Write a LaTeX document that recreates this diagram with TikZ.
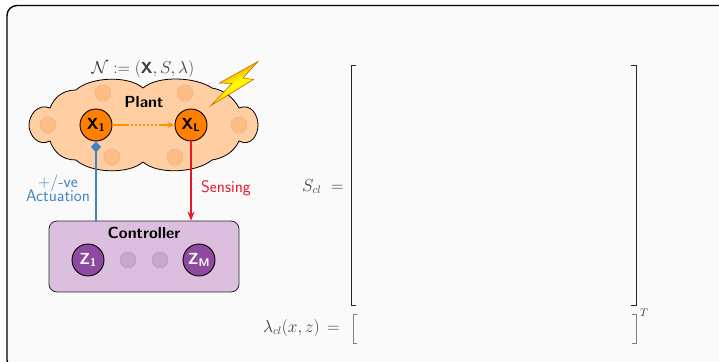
\documentclass[tikz,border=0pt]{standalone}
\usetikzlibrary{arrows.meta}
\definecolor{panelbg}{HTML}{FAFAFA}
\definecolor{cloudfill}{HTML}{FFCFA3}
\definecolor{cloudspot}{HTML}{FDBD85}
\definecolor{spotline}{HTML}{EDB488}
\definecolor{nodeorange}{HTML}{FF7F00}
\definecolor{ctrlfill}{HTML}{DCBFDF}
\definecolor{ctrlspot}{HTML}{C9A7CE}
\definecolor{ctrlspotline}{HTML}{BC9CC4}
\definecolor{zpurple}{HTML}{8E4A9E}
\definecolor{actblue}{HTML}{3E86C2}
\definecolor{sensered}{HTML}{E41A2C}
\definecolor{mathgray}{HTML}{3C3C3C}
\tikzset{
  bignode/.style={circle,draw=black,line width=0.9pt,minimum size=32pt,inner sep=0pt,font=\fontsize{16}{16}\sffamily\bfseries},
  xnode/.style={bignode,fill=nodeorange,text=black},
  znode/.style={bignode,fill=zpurple,text=white},
  cspot/.style={circle,fill=cloudspot,draw=spotline,line width=0.6pt,minimum size=16pt,inner sep=0pt},
  pspot/.style={circle,fill=ctrlspot,draw=ctrlspotline,line width=0.6pt,minimum size=16pt,inner sep=0pt},
  bracketline/.style={line width=1pt,draw=black!85},
  thinbracket/.style={line width=0.8pt,draw=black!50},
  mathlabel/.style={text=mathgray,font=\fontsize{16}{18}\selectfont,inner sep=0pt},
  titlelabel/.style={font=\fontsize{16}{16}\sffamily\bfseries,inner sep=0pt},
  arrowlabel/.style={font=\fontsize{16.8}{17}\sffamily,inner sep=0pt}
}
\begin{document}
\begin{tikzpicture}[x=1pt,y=-1pt]
\useasboundingbox (0,0) rectangle (719,361);
\begin{scope}
\clip (0,0) rectangle (719,361);
\fill[white] (0,0) rectangle (719,361);
\draw[fill=panelbg,line width=1.4pt,rounded corners=10pt] (7,5.5) rectangle (729,370);
\end{scope}
% cloud
\draw[fill=cloudfill,line width=0.8pt]
  (50,108) .. controls (54,98) and (62,90) .. (76,90)
  .. controls (90,77) and (128,75) .. (143,88)
  .. controls (158,75) and (196,77) .. (212,88)
  .. controls (224,90) and (234,98) .. (239,108)
  .. controls (251,103) and (258,115) .. (258,125)
  .. controls (258,135) and (251,147) .. (239,141)
  .. controls (234,152) and (224,158) .. (212,160)
  .. controls (196,173) and (158,175) .. (143,162)
  .. controls (128,175) and (90,173) .. (76,160)
  .. controls (62,160) and (54,152) .. (50,141)
  .. controls (38,147) and (29,135) .. (29,125)
  .. controls (29,115) and (38,103) .. (50,108) -- cycle;
\node[cspot] (s1) at (103,93) {};
\node[cspot] (s2) at (185,93) {};
\node[cspot] (s3) at (48,125) {};
\node[cspot] (s4) at (239,125) {};
\node[cspot] (s5) at (112,157) {};
\node[cspot] (s6) at (175,157) {};
\node[titlelabel] (plant) at (144,102) {Plant};
\node[mathlabel] (net) at (143,69)
  {$\mathcal{N}:=(\textsf{\textbf{X}},S,\lambda)$};
\node[xnode] (X1) at (96,125) {X\textsubscript{1}};
\node[xnode] (XL) at (191,125) {X\textsubscript{L}};
% lightning
\draw[draw=orange!80!black,line width=0.6pt,left color=orange!85!black,right color=orange!60!yellow,middle color=yellow,shading angle=25]
  (258,61.5) -- (219.5,83) -- (232,83.5) -- (211,105.5) -- (253.5,79.5) -- (243,78) -- cycle;
% controller
\node[draw=black!85,fill=ctrlfill,line width=0.8pt,rounded corners=8pt,minimum width=190pt,minimum height=71pt,inner sep=0pt] (ctrl) at (144,256.5) {};
\node[titlelabel] (ctrltitle) at (144,233) {Controller};
\node[znode] (Z1) at (88,260) {Z\textsubscript{1}};
\node[pspot] (p1) at (128,260) {};
\node[pspot] (p2) at (160,260) {};
\node[znode] (ZM) at (199,260) {Z\textsubscript{M}};
% connectors
\draw[-{Stealth[length=7pt,width=6pt]},nodeorange!85!yellow,line width=1.2pt,dash pattern=on 17pt off 1.5pt on 2.5pt off 1.5pt on 2.5pt off 1.5pt on 2.5pt off 1.5pt on 2.5pt off 1.5pt on 2.5pt off 1.5pt on 2.5pt off 1.5pt on 2.5pt off 1.5pt on 30pt] (X1) -- (XL);
\draw[-{Diamond[length=11pt,width=10pt]},actblue,line width=1.2pt] (ctrl.north -| X1.south) -- (X1.south);
\draw[-{Stealth[length=9pt,width=7pt]},sensered,line width=1.2pt] (XL.south) -- (ctrl.north -| XL.south);
\node[arrowlabel,text=actblue] (pm) at (58,183) {+/-ve};
\node[arrowlabel,text=actblue] (act) at (58,196) {Actuation};
\node[arrowlabel,text=sensered] (sens) at (226,188) {Sensing};
% equations
\node[mathlabel,anchor=base west] (scl) at (302,191) {$S_{cl}$};
\node[mathlabel,anchor=base west] (eq1) at (331,191) {$=$};
\node[mathlabel,anchor=base west] (lam) at (263,332) {$\lambda_{cl}(x,z)$};
\node[mathlabel,anchor=base west] (eq2) at (327,332) {$=$};
\node[mathlabel,anchor=base west,font=\fontsize{11}{12}\selectfont] (tt) at (640,316) {$T$};
\draw[bracketline] (356,65.5) -- (351,65.5) -- (351,305.5) -- (356,305.5);
\draw[bracketline] (631,65.5) -- (636,65.5) -- (636,305.5) -- (631,305.5);
\draw[thinbracket] (357,314.5) -- (353,314.5) -- (353,343) -- (357,343);
\draw[thinbracket] (632,314.5) -- (636,314.5) -- (636,343) -- (632,343);
\end{tikzpicture}
\end{document}
